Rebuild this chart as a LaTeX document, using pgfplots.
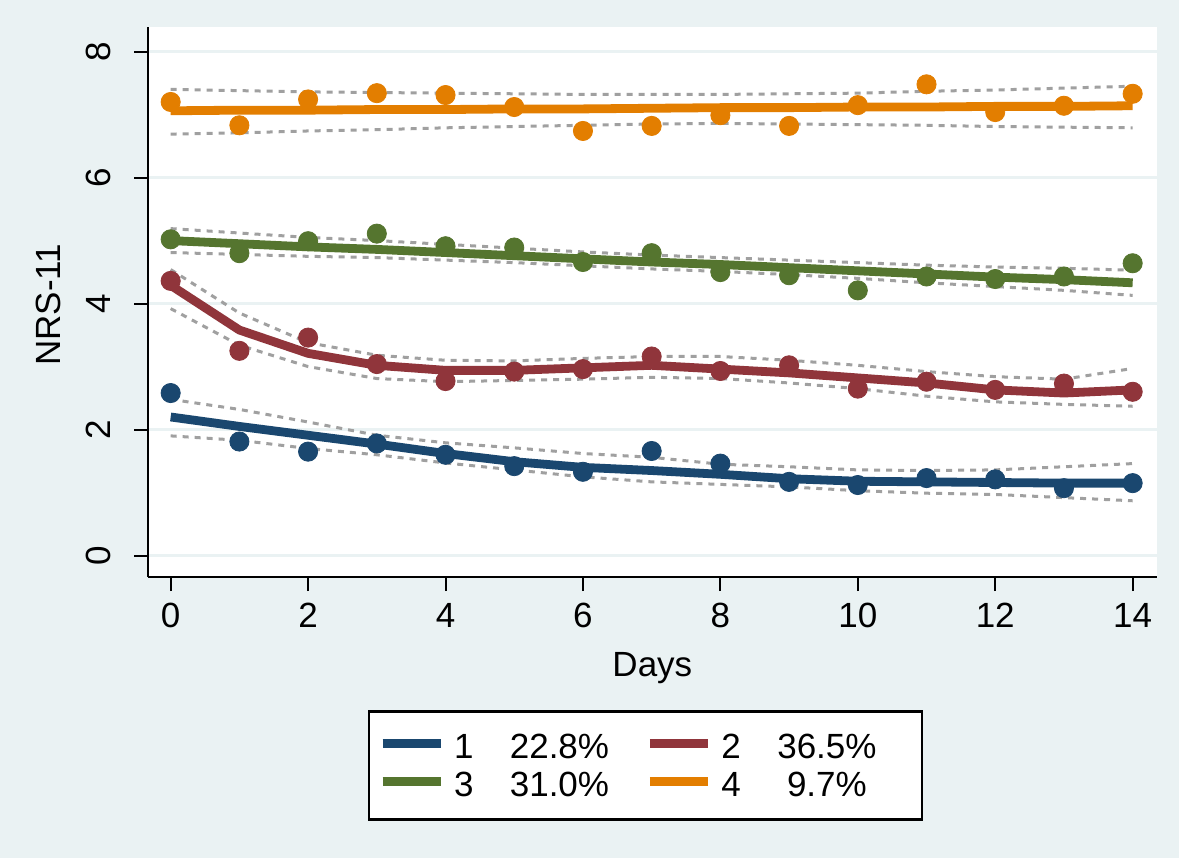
\documentclass[border=0pt]{standalone}
\usepackage{fontspec}
\setmainfont{Liberation Sans}
\usepackage{pgfplots}
\pgfplotsset{compat=1.18}
\usepackage{pgfplotstable}
\definecolor{bg}{HTML}{EAF2F3}
\definecolor{sNavy}{HTML}{1A476F}
\definecolor{sMaroon}{HTML}{90353B}
\definecolor{sGreen}{HTML}{55752F}
\definecolor{sOrange}{HTML}{E37E00}
\definecolor{ciGray}{HTML}{A0A0A0}

\pgfplotstableread{
x g1 g2 g3 g4
0 2.58 4.36 5.02 7.20
1 1.81 3.25 4.80 6.83
2 1.65 3.46 4.99 7.24
3 1.78 3.04 5.11 7.34
4 1.60 2.77 4.91 7.31
5 1.42 2.92 4.89 7.12
6 1.33 2.96 4.66 6.74
7 1.66 3.16 4.80 6.82
8 1.46 2.93 4.50 6.99
9 1.17 3.02 4.45 6.82
10 1.12 2.65 4.21 7.15
11 1.23 2.76 4.43 7.48
12 1.21 2.63 4.39 7.04
13 1.07 2.73 4.43 7.14
14 1.15 2.60 4.64 7.33
}\pts

\pgfplotstableread{
x f1 f2 f3 f4
0 2.20 4.29 5.00 7.06
1 2.05 3.58 4.95 7.07
2 1.91 3.21 4.90 7.07
3 1.77 3.02 4.86 7.08
4 1.62 2.94 4.81 7.08
5 1.49 2.94 4.76 7.09
6 1.40 2.98 4.71 7.09
7 1.35 3.02 4.66 7.10
8 1.29 2.96 4.62 7.11
9 1.22 2.90 4.57 7.11
10 1.18 2.82 4.52 7.12
11 1.17 2.74 4.47 7.12
12 1.16 2.63 4.42 7.13
13 1.15 2.58 4.38 7.13
14 1.15 2.63 4.33 7.14
}\fit

\pgfplotstableread{
x u1 l1 u2 l2 u3 l3 u4 l4
0 2.48 1.90 4.54 3.92 5.19 4.81 7.40 6.69
1 2.32 1.83 3.85 3.34 5.12 4.78 7.38 6.71
2 2.12 1.70 3.38 3.00 5.05 4.75 7.36 6.74
3 1.91 1.60 3.18 2.81 5.00 4.73 7.35 6.76
4 1.79 1.47 3.10 2.76 4.94 4.69 7.34 6.79
5 1.71 1.36 3.09 2.78 4.88 4.65 7.33 6.81
6 1.62 1.25 3.13 2.80 4.82 4.60 7.32 6.83
7 1.56 1.17 3.16 2.83 4.77 4.55 7.32 6.85
8 1.45 1.13 3.16 2.81 4.73 4.51 7.32 6.86
9 1.41 1.09 3.10 2.74 4.69 4.46 7.33 6.85
10 1.36 1.03 3.02 2.65 4.65 4.40 7.34 6.84
11 1.35 0.99 2.92 2.53 4.61 4.33 7.37 6.83
12 1.36 0.97 2.84 2.44 4.58 4.27 7.39 6.81
13 1.41 0.92 2.80 2.40 4.56 4.21 7.42 6.80
14 1.46 0.87 2.97 2.37 4.53 4.13 7.45 6.79
}\ci

\begin{document}
\fontsize{17.5}{21}\selectfont
\begin{tikzpicture}
\fill[bg] (0,0) rectangle (589.5pt,429pt);
\begin{axis}[
  at={(74pt,140.5pt)}, anchor=south west,
  scale only axis, width=504.35pt, height=275pt,
  xmin=-0.33, xmax=14.35, ymin=-0.34, ymax=8.39,
  axis x line*=bottom, axis y line*=left,
  axis line style={line width=1pt, black, -},
  axis background/.style={fill=white},
  xtick={0,2,...,14}, ytick={0,2,4,6,8},
  tick align=outside, major tick length=7pt,
  tick style={line width=1pt, black},
  ymajorgrids, grid style={line width=1.5pt, bg},
  /pgf/number format/assume math mode=true,
  ticklabel style={font=\fontsize{17.5}{21}\selectfont},
  yticklabel style={rotate=90, anchor=south},
  yticklabel shift=5.5pt,
  xlabel={Days},
  xlabel style={at={(axis description cs:0.5,-0.1818)}, anchor=base},
  ylabel={NRS-11},
  ylabel style={at={(axis description cs:-0.0991,0.495)}, anchor=center, rotate=0},
  legend columns=2,
  legend style={at={(0.4932,-0.2418)}, anchor=north, draw=black, line width=1.3pt,
    fill=white, inner xsep=4.5pt, inner ysep=9.5pt, row sep=3pt, column sep=0pt,
    nodes={inner sep=0pt, text height=14pt, text depth=2pt},
    font=\fontsize{17.5}{21}\selectfont},
  fitline/.style={line width=4.4pt, mark=none,
    legend image code/.code={\draw[line width=4.5pt] (0pt,1.2pt) -- (29pt,1.2pt);}},
  cil/.style={ciGray, line width=1.5pt, dash pattern=on 3pt off 3pt, mark=none, forget plot},
  dots/.style={only marks, mark=*, mark size=4.8pt, forget plot},
]
\addplot[dots, sNavy] table[x=x,y=g1]{\pts};
\addplot[dots, sMaroon] table[x=x,y=g2]{\pts};
\addplot[dots, sGreen] table[x=x,y=g3]{\pts};
\addplot[dots, sOrange] table[x=x,y=g4]{\pts};

\addplot[fitline, sNavy] table[x=x,y=f1]{\fit};
\addlegendentry{\hspace{4.5pt}1\makebox[86pt]{22.8\%}\hspace{5pt}}
\addplot[fitline, sMaroon] table[x=x,y=f2]{\fit};
\addlegendentry{\hspace{4.5pt}2\makebox[86pt]{36.5\%}}
\addplot[fitline, sGreen] table[x=x,y=f3]{\fit};
\addlegendentry{\hspace{4.5pt}3\makebox[86pt]{31.0\%}\hspace{5pt}}
\addplot[fitline, sOrange] table[x=x,y=f4]{\fit};
\addlegendentry{\hspace{4.5pt}4\makebox[86pt]{9.7\%}}

\addplot[cil] table[x=x,y=u1]{\ci};
\addplot[cil] table[x=x,y=l1]{\ci};
\addplot[cil] table[x=x,y=u2]{\ci};
\addplot[cil] table[x=x,y=l2]{\ci};
\addplot[cil] table[x=x,y=u3]{\ci};
\addplot[cil] table[x=x,y=l3]{\ci};
\addplot[cil] table[x=x,y=u4]{\ci};
\addplot[cil] table[x=x,y=l4]{\ci};
\end{axis}
\pgfresetboundingbox
\path[use as bounding box] (0,0) rectangle (589.5pt,429pt);
\end{tikzpicture}
\end{document}
